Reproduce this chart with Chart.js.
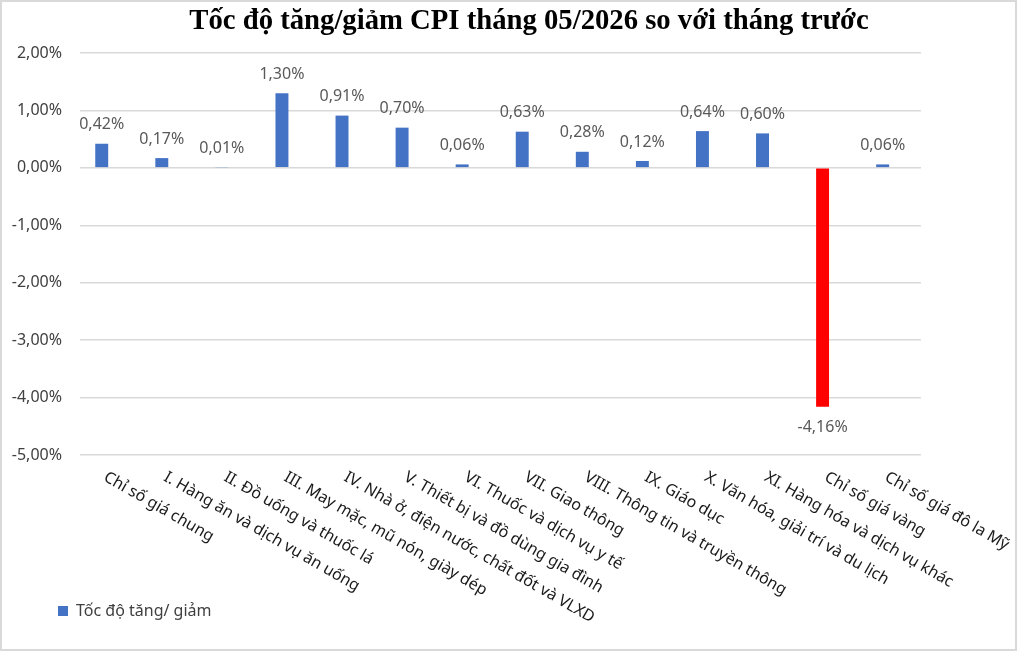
<!DOCTYPE html>
<html>
<head>
<meta charset="utf-8">
<script src="https://cdn.jsdelivr.net/npm/chart.js@4/dist/chart.umd.min.js"></script>
<style>
  html, body { margin: 0; padding: 0; background: #fff; }
  #wrap { width: 1019px; height: 652px; position: relative; }
</style>
</head>
<body>
<div id="wrap"><canvas id="cpi-chart"></canvas></div>
<script>
const chartTitle = 'Tốc độ tăng/giảm CPI tháng 05/2026 so với tháng trước';
const seriesName = 'Tốc độ tăng/ giảm';
const categories = [
  'Chỉ số giá chung',
  'I. Hàng ăn và dịch vụ ăn uống',
  'II. Đồ uống và thuốc lá',
  'III. May mặc, mũ nón, giày dép',
  'IV. Nhà ở, điện nước, chất đốt và VLXD',
  'V. Thiết bị và đồ dùng gia đình',
  'VI. Thuốc và dịch vụ y tế',
  'VII. Giao thông',
  'VIII. Thông tin và truyền thông',
  'IX. Giáo dục',
  'X. Văn hóa, giải trí và du lịch',
  'XI. Hàng hóa và dịch vụ khác',
  'Chỉ số giá vàng',
  'Chỉ số giá đô la Mỹ'
];
const changeValues = [0.42, 0.17, 0.01, 1.30, 0.91, 0.70, 0.06, 0.63, 0.28, 0.12, 0.64, 0.60, -4.16, 0.06];
// second (empty) series, like the source workbook
const emptyValues = categories.map(() => null);
const yMin = -5;
const yMax = 2;
const yStep = 1;

const fmt = v => v.toFixed(2).replace('.', ',') + '%';
const labelFont = '"Noto Sans", sans-serif';

// border round the whole chart
const frame = {
  id: 'frame',
  beforeDraw(chart) {
    const c = chart.ctx;
    c.save();
    c.fillStyle = '#fff';
    c.fillRect(0, 0, chart.width, chart.height);
    c.strokeStyle = '#d9d9d9';
    c.lineWidth = 2;
    c.strokeRect(1, 1, chart.width - 4, chart.height - 3);
    c.restore();
  }
};

// title drawn by hand so it can sit a little right of centre
const titleText = {
  id: 'titleText',
  afterDraw(chart) {
    const c = chart.ctx;
    c.save();
    c.font = 'bold 28.7px "Liberation Serif", serif';
    c.fillStyle = '#000';
    c.textAlign = 'center';
    c.textBaseline = 'middle';
    c.fillText(chartTitle, 529, 22);
    c.restore();
  }
};

// value labels over / under each bar
const valueLabels = {
  id: 'valueLabels',
  afterDatasetsDraw(chart) {
    const c = chart.ctx;
    const meta = chart.getDatasetMeta(0);
    c.save();
    c.font = '16px ' + labelFont;
    c.fillStyle = '#595959';
    c.textAlign = 'center';
    c.textBaseline = 'middle';
    meta.data.forEach((bar, i) => {
      const v = changeValues[i];
      const y = v >= 0 ? bar.y - 19 : bar.y + 21;
      c.fillText(fmt(v), bar.x, y);
    });
    c.restore();
  }
};

// slanted category labels, reading down to the right
const slantLabels = {
  id: 'slantLabels',
  afterDraw(chart) {
    const c = chart.ctx;
    const xs = chart.scales.x;
    c.save();
    c.font = '16px ' + labelFont;
    c.fillStyle = '#1a1a1a';
    c.textAlign = 'left';
    c.textBaseline = 'top';
    categories.forEach((name, i) => {
      c.save();
      c.translate(xs.getPixelForValue(i) - 1, 469);
      c.rotate(30 * Math.PI / 180);
      c.fillText(name, 0, 0);
      c.restore();
    });
    c.restore();
  }
};

const ctx = document.getElementById('cpi-chart').getContext('2d');
const chart = new Chart(ctx, {
  type: 'bar',
  data: {
    labels: categories,
    datasets: [{
      label: seriesName,
      data: changeValues,
      backgroundColor: c => (c.raw < 0 ? '#ff0000' : '#4472c4'),
      borderWidth: 0,
      categoryPercentage: 0.553,
      barPercentage: 0.78
    }, {
      label: '',
      data: emptyValues,
      backgroundColor: '#ed7d31',
      categoryPercentage: 0.553,
      barPercentage: 0.78
    }]
  },
  options: {
    responsive: true,
    maintainAspectRatio: false,
    animation: false,
    layout: { padding: { top: 53, left: 0, right: 98, bottom: 23 } },
    plugins: {
      title: { display: false },
      tooltip: { enabled: false },
      legend: {
        position: 'bottom',
        align: 'start',
        labels: {
          boxWidth: 10,
          boxHeight: 10,
          padding: 58,
          color: '#404040',
          font: { family: labelFont, size: 16 },
          filter: item => item.datasetIndex === 0
        }
      }
    },
    scales: {
      x: {
        grid: { display: false },
        border: { display: false },
        ticks: { display: false },
        afterFit: s => { s.height = 90; }
      },
      y: {
        min: yMin,
        max: yMax,
        grid: { color: '#d9d9d9', lineWidth: 1.5, drawTicks: false },
        border: { display: false },
        ticks: {
          stepSize: yStep,
          padding: 18,
          color: '#404040',
          font: { family: labelFont, size: 16 },
          callback: v => fmt(v)
        },
        afterFit: s => { s.width = 80; }
      }
    }
  },
  plugins: [frame, valueLabels, slantLabels, titleText]
});
</script>
</body>
</html>
